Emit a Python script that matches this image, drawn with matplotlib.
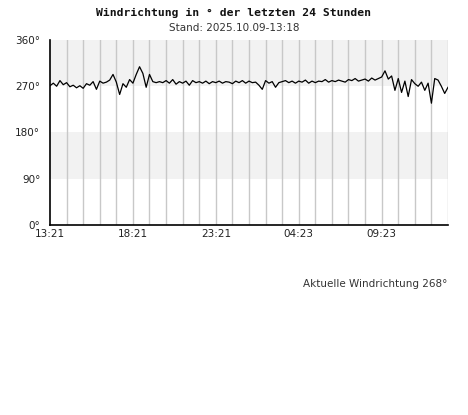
import numpy as np
from matplotlib import pyplot as plt

# wind direction in degrees, 5 samples per hour over the last 24 hours
direction = [
	271, 276, 270, 281, 273,
	277, 269, 272, 267, 271,
	266, 275, 272, 279, 264,
	280, 276, 278, 282, 293,
	278, 254, 275, 268, 283,
	276, 293, 308, 295, 268,
	293, 279, 277, 279, 277,
	281, 276, 283, 274, 279,
	276, 280, 272, 281, 277,
	279, 276, 280, 275, 279,
	277, 280, 276, 279, 278,
	275, 280, 277, 281, 276,
	280, 277, 278, 272, 264,
	281, 276, 279, 268, 277,
	279, 281, 277, 280, 276,
	280, 278, 282, 276, 280,
	277, 280, 279, 283, 278,
	281, 279, 282, 280, 278,
	283, 281, 285, 280, 282,
	284, 280, 286, 282, 285,
	288, 300, 284, 290, 262,
	285, 258, 280, 250, 283,
	275, 270, 278, 262, 276,
	237, 285, 282, 270, 256,
	268,
]
hour_labels = ['13:21', '18:21', '23:21', '04:23', '09:23']
label_hours = [0, 5, 10, 15, 20]
y_ticks = [0, 90, 180, 270, 360]

hours = np.arange(len(direction)) / 5.0

fig = plt.figure(figsize=(4.68, 4.15), dpi=100)
ax = fig.add_axes([50 / 468, 1 - 225 / 415, 398 / 468, 185 / 415])

# alternating bands
ax.axhspan(270, 360, color='#f2f2f2', lw=0, zorder=0)
ax.axhspan(90, 180, color='#f2f2f2', lw=0, zorder=0)

for h in range(1, 25):
	ax.axvline(h, color='#c8c8c8', lw=1, zorder=1)

ax.plot(hours, direction, color='black', lw=0.9, zorder=3)

ax.set_xlim(0, 24)
ax.set_ylim(0, 360)
ax.set_xticks(label_hours)
ax.set_xticklabels(hour_labels)
ax.set_yticks(y_ticks)
ax.set_yticklabels([f'{v}°' for v in y_ticks])
ax.tick_params(length=0, labelsize=7.5, colors='#222222', pad=3)
ax.tick_params(axis='y', pad=7)

for side in ['top', 'right']:
	ax.spines[side].set_visible(False)
ax.spines['left'].set_color('black')
ax.spines['bottom'].set_color('black')
ax.spines['left'].set_linewidth(1.2)
ax.spines['bottom'].set_linewidth(1.2)

fig.text(0.5, 1 - 13 / 415, 'Windrichtung in ° der letzten 24 Stunden', ha='center', va='center',
	family='DejaVu Sans Mono', weight='bold', fontsize=8.2, color='#111111')
fig.text(0.5, 1 - 28 / 415, 'Stand: 2025.10.09-13:18', ha='center', va='center',
	fontsize=7.5, color='#333333')
fig.text(447 / 468, 1 - 284 / 415, 'Aktuelle Windrichtung 268°', ha='right', va='center',
	fontsize=7.5, color='#333333')

plt.savefig('out.png', dpi=100)
